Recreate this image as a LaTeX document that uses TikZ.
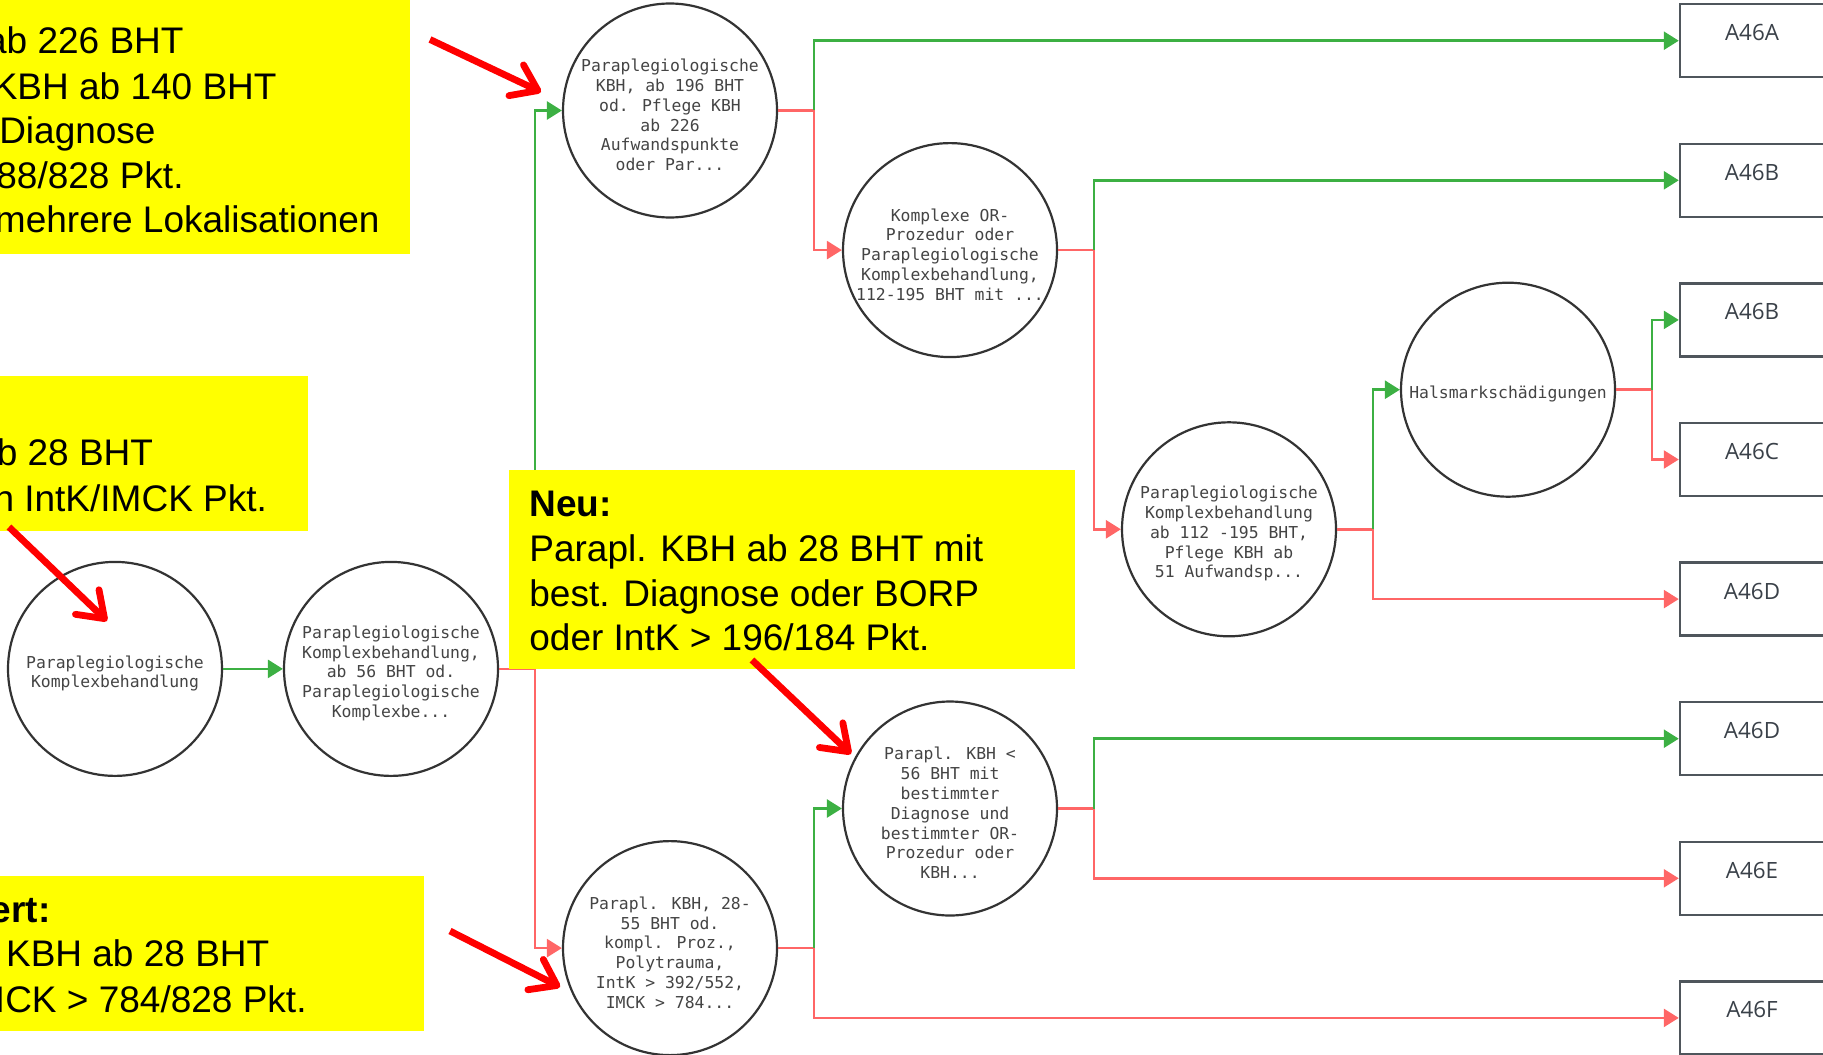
\documentclass[tikz,border=0pt]{standalone}
\usepackage{fontspec}
\setmainfont{Liberation Sans}
\newfontfamily\monofont{DejaVu Sans Mono}
\newfontfamily\labelfont{Open Sans}
\usetikzlibrary{arrows.meta}

\definecolor{okgreen}{RGB}{60,176,67}
\definecolor{nored}{RGB}{255,102,102}
\definecolor{hlyellow}{RGB}{255,255,0}
\definecolor{markred}{RGB}{255,0,0}
\definecolor{ringgray}{RGB}{51,51,51}
\definecolor{textgray}{RGB}{68,68,68}
\definecolor{boxgray}{RGB}{79,86,92}
\definecolor{boxtext}{RGB}{58,65,73}

\begin{document}
\begin{tikzpicture}[x=0.5pt,y=-0.5pt,
  decision/.style={circle,draw=ringgray,line width=1.1pt,fill=white,minimum size=107pt,inner sep=0pt},
  circtext/.style={font=\monofont\fontsize{8.2pt}{9.9pt}\selectfont,text=textgray,align=center,inner sep=0pt},
  outbox/.style={draw=boxgray,line width=1.25pt,fill=white,minimum width=72pt,minimum height=36.5pt,
    inner sep=0pt,font=\labelfont\fontsize{11.2pt}{13pt}\selectfont,text=boxtext,text height=5pt,text depth=5pt},
  yesline/.style={draw=okgreen,line width=1.3pt,-{Triangle[length=7.5pt,width=9pt]}},
  noline/.style={draw=nored,line width=1.3pt,-{Triangle[length=7.5pt,width=9pt]}},
  notebox/.style={fill=hlyellow,inner sep=0pt,anchor=north west},
  notetext/.style={font=\fontsize{18.5pt}{22pt}\selectfont,inner sep=0pt},
  markarrow/.style={draw=markred,line width=3.4pt,-{Straight Barb[length=12pt,width=17pt,round]}}
]
\useasboundingbox (0,0) rectangle (1823,1054);

% decision circles
\node[decision] (c1) at (115,668.9) {};
\node[decision] (c2) at (391,668.9) {};
\node[decision] (c3) at (670,110.5) {};
\node[decision] (c4) at (950,250.1) {};
\node[decision] (c5) at (1229,529.3) {};
\node[decision] (c6) at (1508,389.7) {};
\node[decision] (c7) at (950,808.5) {};
\node[decision] (c8) at (670,948.1) {};

\node[circtext] at (115,673.4) {Paraplegiologische\\Komplexbehandlung};
\node[circtext] at (391,673.4) {Paraplegiologische\\Komplexbehandlung,\\ab 56 BHT od.\\Paraplegiologische\\Komplexbe...};
\node[circtext] at (670,115) {Paraplegiologische\\KBH, ab 196 BHT\\od. Pflege KBH\\ab 226\\Aufwandspunkte\\oder Par...};
\node[circtext] at (950,254.6) {Komplexe OR-\\Prozedur oder\\Paraplegiologische\\Komplexbehandlung,\\112-195 BHT mit ...};
\node[circtext] at (1229,533.8) {Paraplegiologische\\Komplexbehandlung\\ab 112 -195 BHT,\\Pflege KBH ab\\51 Aufwandsp...};
\node[circtext] at (1508,394.2) {Halsmarkschädigungen};
\node[circtext] at (950,813) {Parapl. KBH <\\56 BHT mit\\bestimmter\\Diagnose und\\bestimmter OR-\\Prozedur oder\\KBH...};
\node[circtext] at (670,952.6) {Parapl. KBH, 28-\\55 BHT od.\\kompl. Proz.,\\Polytrauma,\\IntK > 392/552,\\IMCK > 784...};

% result boxes
\node[outbox] (a1) at (1752,40.7) {A46A};
\node[outbox] (a2) at (1752,180.3) {A46B};
\node[outbox] (a3) at (1752,319.9) {A46B};
\node[outbox] (a4) at (1752,459.5) {A46C};
\node[outbox] (a5) at (1752,599.1) {A46D};
\node[outbox] (a6) at (1752,738.7) {A46D};
\node[outbox] (a7) at (1752,878.3) {A46E};
\node[outbox] (a8) at (1752,1017.9) {A46F};

% branch points
\coordinate (j2) at ([xshift=18pt]c2.east);
\coordinate (j3) at ([xshift=18pt]c3.east);
\coordinate (j4) at ([xshift=18pt]c4.east);
\coordinate (j5) at ([xshift=18pt]c5.east);
\coordinate (j6) at ([xshift=18pt]c6.east);
\coordinate (j7) at ([xshift=18pt]c7.east);
\coordinate (j8) at ([xshift=18pt]c8.east);

% connectors
\draw[yesline] (c1.east) -- (c2.west);

\draw[noline] (c2.east) -- (j2) |- (c8.west);
\draw[yesline] (j2) |- (c3.west);

\draw[noline] (c3.east) -- (j3) |- (c4.west);
\draw[yesline] (j3) |- (a1.west);

\draw[noline] (c4.east) -- (j4) |- (c5.west);
\draw[yesline] (j4) |- (a2.west);

\draw[noline] (c5.east) -- (j5) |- (a5.west);
\draw[yesline] (j5) |- (c6.west);

\draw[noline] (c6.east) -- (j6) |- (a4.west);
\draw[yesline] (j6) |- (a3.west);

\draw[noline] (c8.east) -- (j8) |- (a8.west);
\draw[yesline] (j8) |- (c7.west);

\draw[noline] (c7.east) -- (j7) |- (a7.west);
\draw[yesline] (j7) |- (a6.west);

% highlighted notes
\node[notebox,minimum width=205pt,minimum height=126.75pt] (n1) at (0,0) {};
\node[notetext,anchor=base east] at (184,54) {ab 226 BHT};
\node[notetext,anchor=base east] at (277,99) {KBH ab 140 BHT};
\node[notetext,anchor=base east] at (156,143.5) {Diagnose};
\node[notetext,anchor=base east] at (184,188) {88/828 Pkt.};
\node[notetext,anchor=base east] at (380,232.5) {mehrere Lokalisationen};

\node[notebox,minimum width=154pt,minimum height=77.75pt] (n2) at (0,375.5) {};
\node[notetext,anchor=base east] at (153.5,465.6) {b 28 BHT};
\node[notetext,anchor=base east] at (267.4,511) {n IntK/IMCK Pkt.};

\node[notebox,minimum width=212pt,minimum height=77.75pt] (n3) at (0,875.5) {};
\node[notetext,anchor=base east] at (51,922.5) {\bfseries ert:};
\node[notetext,anchor=base east] at (269.7,966.7) {KBH ab 28 BHT};
\node[notetext,anchor=base east] at (307,1012) {ICK > 784/828 Pkt.};

\node[notebox,minimum width=283pt,minimum height=99.2pt] (n4) at (509,469.7) {};
\node[notetext,anchor=base west] at (529,516.8) {\bfseries Neu:};
\node[notetext,anchor=base west] at (529,561) {Parapl. KBH ab 28 BHT mit};
\node[notetext,anchor=base west] at (529,606) {best. Diagnose oder BORP};
\node[notetext,anchor=base west] at (529,650.5) {oder IntK > 196/184 Pkt.};

% pointer arrows
\coordinate (p1s) at (430,39.5);   \coordinate (p1e) at (541,92);
\coordinate (p2s) at (9,527);      \coordinate (p2e) at (107,621);
\coordinate (p3s) at (450,931);    \coordinate (p3e) at (560,987);
\coordinate (p4s) at (752,660);    \coordinate (p4e) at (851,754);
\draw[markarrow] (p1s) -- (p1e);
\draw[markarrow] (p2s) -- (p2e);
\draw[markarrow] (p3s) -- (p3e);
\draw[markarrow] (p4s) -- (p4e);
\end{tikzpicture}
\end{document}
